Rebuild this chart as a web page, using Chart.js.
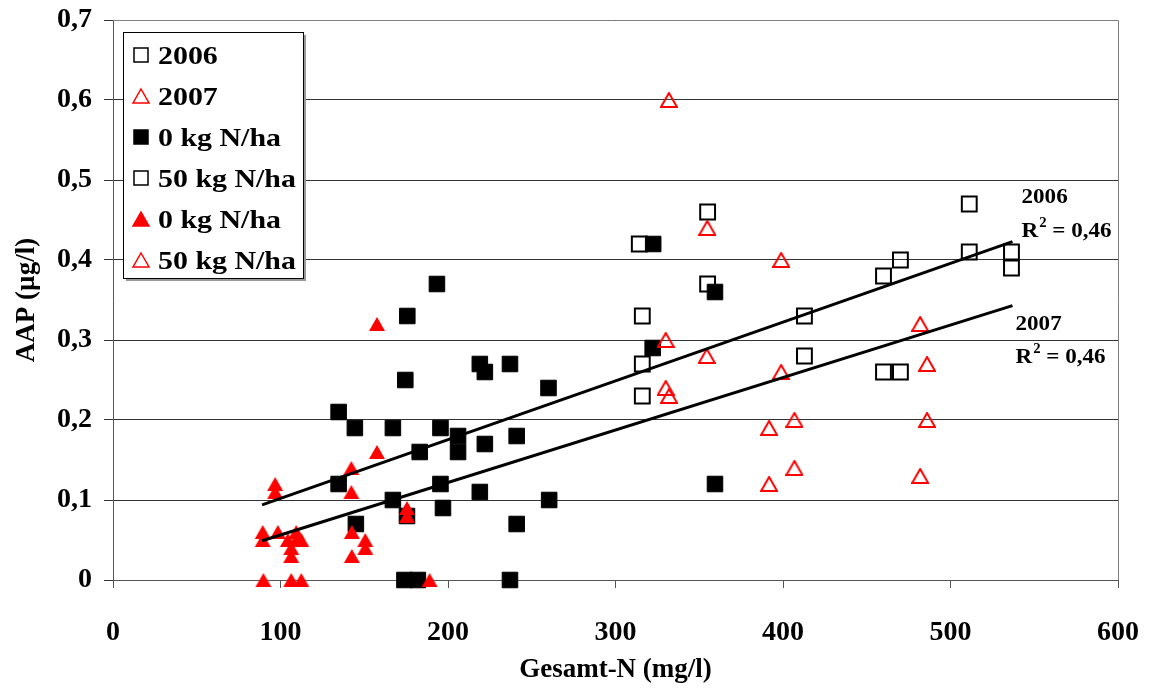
<!DOCTYPE html>
<html>
<head>
<meta charset="utf-8">
<script src="https://cdn.jsdelivr.net/npm/chart.js@4.4.1/dist/chart.umd.min.js"></script>
<style>
  html, body { margin: 0; padding: 0; background: #fff; }
</style>
</head>
<body>
<canvas id="aap-chart" width="1149" height="692"></canvas>
<script>
// 2006, 0 kg N/ha (filled squares)
const n2006_0 = [175.7, 219, 222, 237, 260, 174.5, 134.7, 144.4, 167.1, 195.5, 206, 206, 183.1, 222, 241,
  134.7, 195.5, 219, 167.1, 260.4, 197, 145, 241, 175.5, 174, 182, 237, 193.4, 322.5, 359.4, 322.2, 359.4];
const aap2006_0 = [0.33, 0.27, 0.26, 0.27, 0.24, 0.25, 0.21, 0.19, 0.19, 0.19, 0.18, 0.16, 0.16, 0.17, 0.18,
  0.12, 0.12, 0.11, 0.10, 0.10, 0.09, 0.07, 0.07, 0.08, 0, 0, 0, 0.37, 0.42, 0.36, 0.29, 0.12];

// 2006, 50 kg N/ha (open squares)
const n2006_50 = [314.2, 355, 355, 316, 316, 316, 412.8, 412.8, 460, 470.1, 460, 470.1, 511.2, 511.2, 536.4, 536.4];
const aap2006_50 = [0.42, 0.46, 0.37, 0.33, 0.27, 0.23, 0.33, 0.28, 0.38, 0.40, 0.26, 0.26, 0.47, 0.41, 0.41, 0.39];

// 2007, 0 kg N/ha (filled triangles)
const n2007_0 = [96.8, 96.8, 89.4, 89.4, 98.4, 109.4, 109.4, 112.4, 104.4, 106.4, 106.4, 89.8, 106.4, 112.4,
  157.6, 157.6, 142.3, 142.3, 175.5, 175.5, 142.6, 150.6, 150.6, 142.6, 189];
const aap2007_0 = [0.12, 0.11, 0.06, 0.05, 0.06, 0.06, 0.05, 0.05, 0.05, 0.04, 0.03, 0, 0, 0,
  0.32, 0.16, 0.14, 0.11, 0.09, 0.08, 0.06, 0.05, 0.04, 0.03, 0];

// 2007, 50 kg N/ha (open triangles)
const n2007_50 = [331.9, 354.8, 398.9, 330, 354.5, 330, 332, 398.9, 391.7, 406.8, 406.8, 391.7, 481.9, 486, 486, 481.9];
const aap2007_50 = [0.60, 0.44, 0.40, 0.30, 0.28, 0.24, 0.23, 0.26, 0.19, 0.20, 0.14, 0.12, 0.32, 0.27, 0.20, 0.13];

// linear trend lines (end points)
const trendN = [89, 537];
const trend2006 = [0.094, 0.423];
const trend2007 = [0.049, 0.343];
const trendYears = ["2006", "2007"];
const trendR2 = ["0,46", "0,46"];

const xTicks = [0, 100, 200, 300, 400, 500, 600];
const yTicks = [0, 0.1, 0.2, 0.3, 0.4, 0.5, 0.6, 0.7];

const RED = "#ff0000";
const SERIF = "'Liberation Serif', 'Times New Roman', serif";

function pts(xs, ys) {
  return xs.map((x, i) => ({ x: x, y: ys[i] }));
}

// triangle marker as a small canvas, so it is centred on its box like Excel does
function triangleImg(w, h, filled) {
  const c = document.createElement("canvas");
  c.width = w; c.height = h;
  const g = c.getContext("2d");
  g.beginPath();
  g.moveTo(w / 2, 1);
  g.lineTo(w - 1, h - 1);
  g.lineTo(1, h - 1);
  g.closePath();
  if (filled) {
    g.fillStyle = RED;
    g.fill();
  } else {
    g.lineWidth = 2;
    g.strokeStyle = RED;
    g.stroke();
  }
  return c;
}

// text a bit wider than the font, like the original export
function wideText(ctx, txt, x, y, sx) {
  ctx.save();
  ctx.translate(x, y);
  ctx.scale(sx, 1);
  ctx.fillText(txt, 0, 0);
  const w = ctx.measureText(txt).width * sx;
  ctx.restore();
  return w;
}

// legend box + plot frame + trend labels
const extras = {
  id: "extras",
  afterDraw(chart) {
    const ctx = chart.ctx;
    const a = chart.chartArea;
    const xs = chart.scales.x;
    const ys = chart.scales.y;
    ctx.save();

    // grey frame top / right
    ctx.strokeStyle = "#808080";
    ctx.lineWidth = 1;
    ctx.beginPath();
    ctx.moveTo(a.left, a.top + 0.5);
    ctx.lineTo(a.right + 0.5, a.top + 0.5);
    ctx.lineTo(a.right + 0.5, a.bottom);
    ctx.stroke();

    // legend
    const bx = 123, by = 32, bw = 180, bh = 246;
    ctx.fillStyle = "#9a9a9a";
    ctx.fillRect(bx + 3, by + 3, bw, bh);
    ctx.fillStyle = "#fff";
    ctx.fillRect(bx, by, bw, bh);
    ctx.strokeStyle = "#000";
    ctx.strokeRect(bx + 0.5, by + 0.5, bw, bh);

    ctx.font = "bold 26px " + SERIF;
    ctx.textBaseline = "middle";
    ctx.textAlign = "left";
    chart.data.datasets.forEach((ds, i) => {
      const cy = 55 + i * 41;
      const cx = 141;
      const s = 14;
      ctx.beginPath();
      if (ds.legendShape === "rect") {
        ctx.rect(cx - s / 2, cy - s / 2, s, s);
      } else {
        ctx.moveTo(cx, cy - s / 2);
        ctx.lineTo(cx + s / 2 + 1, cy + s / 2);
        ctx.lineTo(cx - s / 2 - 1, cy + s / 2);
        ctx.closePath();
      }
      if (ds.legendFill !== "transparent") {
        ctx.fillStyle = ds.legendFill;
        ctx.fill();
      }
      ctx.lineWidth = 1.5;
      ctx.strokeStyle = ds.legendStroke;
      ctx.stroke();
      ctx.fillStyle = "#000";
      wideText(ctx, ds.label, 158, cy + 2, 1.15);
    });

    // trend labels
    ctx.textBaseline = "alphabetic";
    const ends = [trend2006[1], trend2007[1]];
    const offs = [[9, -39, -5], [3, 24, 57]];
    ends.forEach((v, i) => {
      const px = xs.getPixelForValue(trendN[1]) + offs[i][0];
      const py = ys.getPixelForValue(v);
      ctx.font = "bold 22px " + SERIF;
      wideText(ctx, trendYears[i], px, py + offs[i][1], 1.05);
      let x = px;
      const yb = py + offs[i][2];
      x += wideText(ctx, "R", x, yb, 1.05);
      ctx.font = "bold 14px " + SERIF;
      x += wideText(ctx, "2", x + 1, yb - 10, 1.05) + 1;
      ctx.font = "bold 22px " + SERIF;
      wideText(ctx, " = " + trendR2[i], x, yb, 1.05);
    });
    ctx.restore();
  }
};

const triFull = triangleImg(18, 16, true);
const triOpen = triangleImg(18, 16, false);

const ctx = document.getElementById("aap-chart").getContext("2d");
new Chart(ctx, {
  type: "scatter",
  data: {
    datasets: [
      {
        label: "2006", type: "line", data: pts(trendN, trend2006),
        borderColor: "#000", borderWidth: 3, pointRadius: 0, fill: false, order: 1,
        legendShape: "rect", legendFill: "transparent", legendStroke: "#000"
      },
      {
        label: "2007", type: "line", data: pts(trendN, trend2007),
        borderColor: "#000", borderWidth: 3, pointRadius: 0, fill: false, order: 2,
        legendShape: "triangle", legendFill: "transparent", legendStroke: RED
      },
      {
        label: "0 kg N/ha", data: pts(n2006_0, aap2006_0), clip: false,
        pointStyle: "rect", pointRadius: 11, pointBackgroundColor: "#000", pointBorderColor: "#000",
        pointBorderWidth: 1, order: 5,
        legendShape: "rect", legendFill: "#000", legendStroke: "#000"
      },
      {
        label: "50 kg N/ha", data: pts(n2006_50, aap2006_50), clip: false,
        pointStyle: "rect", pointRadius: 10.5, pointBackgroundColor: "transparent", pointBorderColor: "#000",
        pointBorderWidth: 2, order: 6,
        legendShape: "rect", legendFill: "transparent", legendStroke: "#000"
      },
      {
        label: "0 kg N/ha", data: pts(n2007_0, aap2007_0), clip: false,
        pointStyle: triFull, order: 3,
        legendShape: "triangle", legendFill: RED, legendStroke: RED
      },
      {
        label: "50 kg N/ha", data: pts(n2007_50, aap2007_50), clip: false,
        pointStyle: triOpen, order: 4,
        legendShape: "triangle", legendFill: "transparent", legendStroke: RED
      }
    ]
  },
  options: {
    responsive: false,
    animation: false,
    devicePixelRatio: 1,
    layout: { padding: { top: 20, right: 31, left: 0, bottom: 0 } },
    plugins: { legend: { display: false }, tooltip: { enabled: false } },
    elements: { point: { hoverRadius: 10 } },
    scales: {
      x: {
        type: "linear",
        min: xTicks[0],
        max: xTicks[xTicks.length - 1],
        afterBuildTicks: s => { s.ticks = xTicks.map(v => ({ value: v })); },
        afterFit: s => { s.height = 112; s.paddingLeft = 0; s.paddingRight = 0; },
        ticks: { font: { family: SERIF, size: 28, weight: "bold" }, color: "#000", padding: 28, maxRotation: 0 },
        grid: { drawOnChartArea: false, tickLength: 8, color: "#555" },
        border: { color: "#555" },
        title: {
          display: true, text: "Gesamt-N (mg/l)", color: "#000",
          font: { family: SERIF, size: 27, weight: "bold" }, padding: { top: 0, bottom: 6 }
        }
      },
      y: {
        min: yTicks[0],
        max: yTicks[yTicks.length - 1],
        afterBuildTicks: s => { s.ticks = yTicks.map(v => ({ value: v })); },
        afterFit: s => { s.width = 113; s.paddingTop = 0; s.paddingBottom = 0; },
        ticks: {
          font: { family: SERIF, size: 28, weight: "bold" }, color: "#000", padding: 12,
          callback: v => v === 0 ? "0" : v.toFixed(1).replace(".", ",")
        },
        grid: { color: "#333", tickLength: 9 },
        border: { color: "#555" },
        title: {
          display: true, text: "AAP (µg/l)", color: "#000",
          font: { family: SERIF, size: 27, weight: "bold" }, padding: { top: 11, bottom: 0 }
        }
      }
    }
  },
  plugins: [extras]
});
</script>
</body>
</html>
